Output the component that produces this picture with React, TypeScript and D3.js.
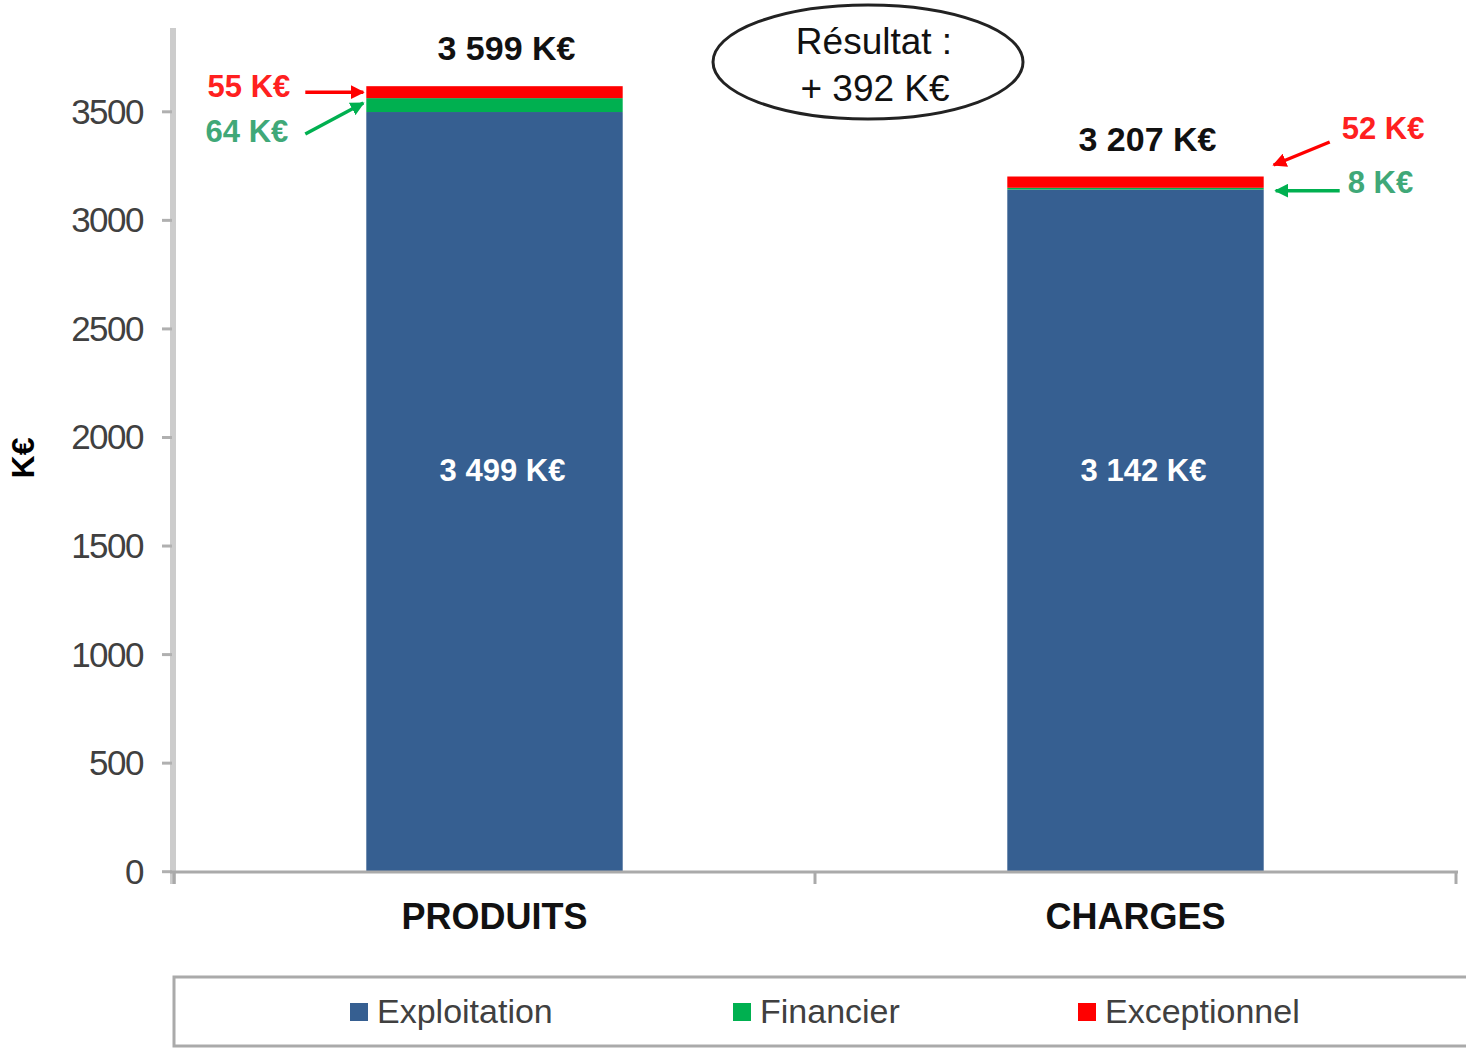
import { useEffect, useRef } from "react";
import * as d3 from "d3";

const categories = ["PRODUITS", "CHARGES"];
const exploitation = [3499, 3142];
const financier = [64, 8];
const exceptionnel = [55, 52];
const totalLabels = ["3 599 K€", "3 207 K€"];
const innerLabels = ["3 499 K€", "3 142 K€"];
const financierLabels = ["64 K€", "8 K€"];
const exceptionnelLabels = ["55 K€", "52 K€"];
const seriesNames = ["Exploitation", "Financier", "Exceptionnel"];
const seriesColors = ["#365f91", "#00b050", "#ff0000"];
const yTicks = [0, 500, 1000, 1500, 2000, 2500, 3000, 3500];

const W = 1466;
const H = 1048;
const FONT = "'Liberation Sans', Arial, sans-serif";

const App = () => {
  const svgRef = useRef<SVGSVGElement | null>(null);

  useEffect(() => {
    const svg = d3.select(svgRef.current);
    svg.selectAll("*").remove();

    const rows = categories.map((c, i) => ({
      cat: c,
      Exploitation: exploitation[i],
      Financier: financier[i],
      Exceptionnel: exceptionnel[i],
    }));

    const x = d3
      .scaleBand()
      .domain(categories)
      .range([174, 1456])
      .paddingInner(0.6)
      .paddingOuter(0.3);
    const y = d3.scaleLinear().domain([0, 3886]).range([871.7, 28]);

    const stack = d3.stack<any>().keys(seriesNames);
    const layers = stack(rows);

    // arrow markers
    const defs = svg.append("defs");
    [
      ["arrRed", "#ff0000"],
      ["arrGreen", "#00b050"],
    ].forEach(([id, col]) => {
      defs
        .append("marker")
        .attr("id", id)
        .attr("viewBox", "0 0 10 10")
        .attr("refX", 9)
        .attr("refY", 5)
        .attr("markerWidth", 4)
        .attr("markerHeight", 4)
        .attr("orient", "auto")
        .append("path")
        .attr("d", "M0,0 L10,5 L0,10 z")
        .attr("fill", col);
    });

    // y axis
    svg
      .append("line")
      .attr("x1", 173)
      .attr("x2", 173)
      .attr("y1", y(3886))
      .attr("y2", 884)
      .attr("stroke", "#cccccc")
      .attr("stroke-width", 6);
    const yg = svg.append("g");
    yg.selectAll("line")
      .data(yTicks)
      .enter()
      .append("line")
      .attr("x1", 162)
      .attr("x2", 172)
      .attr("y1", (d) => y(d))
      .attr("y2", (d) => y(d))
      .attr("stroke", "#b0b0b0")
      .attr("stroke-width", 3);
    yg.selectAll("text")
      .data(yTicks)
      .enter()
      .append("text")
      .attr("x", 143)
      .attr("y", (d) => y(d) + 12)
      .attr("text-anchor", "end")
      .attr("font-family", FONT)
      .attr("font-size", 35)
      .attr("letter-spacing", -1.5)
      .attr("fill", "#404040")
      .text((d) => d);

    svg
      .append("text")
      .attr("transform", `translate(34,${458}) rotate(-90)`)
      .attr("text-anchor", "middle")
      .attr("font-family", FONT)
      .attr("font-size", 32)
      .attr("font-weight", "bold")
      .attr("fill", "#000")
      .text("K€");

    // bars
    layers.forEach((layer, li) => {
      svg
        .append("g")
        .selectAll("rect")
        .data(layer)
        .enter()
        .append("rect")
        .attr("x", (d: any) => x(d.data.cat)!)
        .attr("width", x.bandwidth())
        .attr("y", (d) => y(d[1]))
        .attr("height", (d) => y(d[0]) - y(d[1]))
        .attr("fill", seriesColors[li]);
    });

    // x axis
    svg
      .append("line")
      .attr("x1", 170)
      .attr("x2", 1458)
      .attr("y1", 872)
      .attr("y2", 872)
      .attr("stroke", "#aaaaaa")
      .attr("stroke-width", 3);
    const step = x.step();
    const xTickPos = [174, 174 + step, 174 + 2 * step];
    svg
      .append("g")
      .selectAll("line")
      .data(xTickPos)
      .enter()
      .append("line")
      .attr("x1", (d) => d)
      .attr("x2", (d) => d)
      .attr("y1", 872)
      .attr("y2", 884)
      .attr("stroke", "#aaaaaa")
      .attr("stroke-width", 3);
    svg
      .append("g")
      .selectAll("text")
      .data(categories)
      .enter()
      .append("text")
      .attr("x", (d) => x(d)! + x.bandwidth() / 2)
      .attr("y", 929)
      .attr("text-anchor", "middle")
      .attr("font-family", FONT)
      .attr("font-size", 36)
      .attr("font-weight", "bold")
      .attr("fill", "#111")
      .text((d) => d);

    // labels on bars
    categories.forEach((c, i) => {
      const bx = x(c)!;
      const bw = x.bandwidth();
      const top = y(exploitation[i] + financier[i] + exceptionnel[i]);
      svg
        .append("text")
        .attr("x", bx + bw / 2 + 12)
        .attr("y", top - 26)
        .attr("text-anchor", "middle")
        .attr("font-family", FONT)
        .attr("font-size", 34)
        .attr("font-weight", "bold")
        .attr("fill", "#111")
        .text(totalLabels[i]);
      svg
        .append("text")
        .attr("x", bx + bw / 2 + 8)
        .attr("y", 481)
        .attr("text-anchor", "middle")
        .attr("font-family", FONT)
        .attr("font-size", 31)
        .attr("font-weight", "bold")
        .attr("fill", "#ffffff")
        .text(innerLabels[i]);
    });

    // callouts
    const p = x(categories[0])!;
    const yRed0 = y(exploitation[0] + financier[0] + exceptionnel[0] / 2);
    const yGreen0 = y(exploitation[0] + financier[0] / 2);
    const callout = (
      tx: number,
      ty: number,
      anchor: string,
      color: string,
      text: string
    ) =>
      svg
        .append("text")
        .attr("x", tx)
        .attr("y", ty)
        .attr("text-anchor", anchor)
        .attr("font-family", FONT)
        .attr("font-size", 31)
        .attr("font-weight", "bold")
        .attr("fill", color)
        .text(text);
    const arrow = (
      x1: number,
      y1: number,
      x2: number,
      y2: number,
      color: string,
      id: string
    ) =>
      svg
        .append("line")
        .attr("x1", x1)
        .attr("y1", y1)
        .attr("x2", x2)
        .attr("y2", y2)
        .attr("stroke", color)
        .attr("stroke-width", 3.5)
        .attr("marker-end", `url(#${id})`);

    callout(p - 76, 97, "end", "#ff2020", exceptionnelLabels[0]);
    callout(p - 78, 142, "end", "#40a878", financierLabels[0]);
    arrow(p - 61, yRed0, p - 3, yRed0, "#ff0000", "arrRed");
    arrow(p - 61, 134, p - 3, yGreen0 - 2, "#00b050", "arrGreen");

    const c = x(categories[1])! + x.bandwidth();
    const yGreen1 = y(exploitation[1] + financier[1] / 2);
    callout(c + 78, 139, "start", "#ff2020", exceptionnelLabels[1]);
    callout(c + 84, 193, "start", "#40a878", financierLabels[1]);
    arrow(c + 66, 142, c + 10, 165, "#ff0000", "arrRed");
    arrow(c + 76, yGreen1 + 2, c + 12, yGreen1 + 2, "#00b050", "arrGreen");

    // result ellipse
    svg
      .append("ellipse")
      .attr("cx", 868)
      .attr("cy", 62)
      .attr("rx", 155)
      .attr("ry", 57)
      .attr("fill", "none")
      .attr("stroke", "#222")
      .attr("stroke-width", 3);
    svg
      .append("text")
      .attr("x", 874)
      .attr("y", 54)
      .attr("text-anchor", "middle")
      .attr("font-family", FONT)
      .attr("font-size", 37)
      .attr("fill", "#111")
      .text("Résultat :");
    svg
      .append("text")
      .attr("x", 875)
      .attr("y", 101)
      .attr("text-anchor", "middle")
      .attr("font-family", FONT)
      .attr("font-size", 37)
      .attr("fill", "#111")
      .text("+ 392 K€");

    // legend
    svg
      .append("rect")
      .attr("x", 174)
      .attr("y", 977)
      .attr("width", 1300)
      .attr("height", 69)
      .attr("fill", "none")
      .attr("stroke", "#aaaaaa")
      .attr("stroke-width", 3);
    const legendX = [350, 733, 1078];
    const lg = svg
      .append("g")
      .selectAll("g")
      .data(seriesNames)
      .enter()
      .append("g")
      .attr("transform", (_d, i) => `translate(${legendX[i]},1003)`);
    lg.append("rect")
      .attr("width", 18)
      .attr("height", 18)
      .attr("fill", (_d, i) => seriesColors[i]);
    lg.append("text")
      .attr("x", 27)
      .attr("y", 20)
      .attr("font-family", FONT)
      .attr("font-size", 34)
      .attr("fill", "#404040")
      .text((d) => d);
  }, []);

  return (
    <svg
      ref={svgRef}
      width={W}
      height={H}
      style={{ position: "absolute", left: 0, top: 0, background: "#fff" }}
    ></svg>
  );
};

export default App;
